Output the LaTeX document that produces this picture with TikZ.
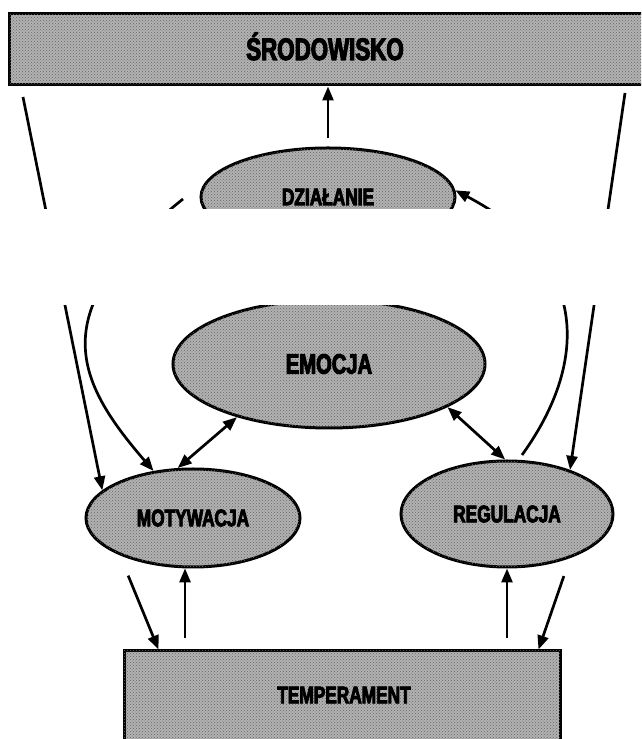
\documentclass[tikz,border=0pt]{standalone}
\usepackage{fontspec}
\newfontfamily\lbl{Liberation Sans}[FakeStretch=0.72,BoldFeatures={FakeBold=3.5}]
\usetikzlibrary{arrows.meta,shapes.geometric,patterns}

\begin{document}
\begin{tikzpicture}[x=1pt,y=1pt,
  shade/.style={fill=black!30, postaction={pattern=crosshatch dots, pattern color=black!60}},
  box/.style={draw, line width=3pt, shade, rectangle, inner sep=0pt},
  oval/.style={draw, line width=3pt, shade, ellipse, inner sep=0pt,
    font=\lbl\bfseries\fontsize{24}{26}\selectfont},
  txt/.style={inner sep=0pt, font=\lbl\bfseries\fontsize{24}{26}\selectfont},
  arr/.style={line width=2.7pt, -{Triangle[length=14pt,width=11pt]}},
  dbl/.style={line width=2.7pt, {Triangle[length=14pt,width=11pt]}-{Triangle[length=14pt,width=11pt]}},
]
\useasboundingbox (0,0) rectangle (641,739);
\clip (0,0) rectangle (641,739);

% top bar and its label
\node[box, minimum width=660pt, minimum height=71pt] (srod) at (339,689.5) {};
\node[txt, anchor=base, font=\lbl\bfseries\fontsize{31}{33}\selectfont] (srodtxt) at (325,679) {ŚRODOWISKO};

% ellipses
\node[oval, minimum width=254pt, minimum height=98pt] (dzial) at (328,542) {DZIAŁANIE};
\node[oval, minimum width=312pt, minimum height=128pt,
      font=\lbl\bfseries\fontsize{28}{30}\selectfont] (emo) at (329,375) {EMOCJA};
\node[oval, minimum width=214pt, minimum height=98pt] (motyw) at (193,221) {MOTYWACJA};
\node[oval, minimum width=212pt, minimum height=106pt] (reg) at (507,225) {REGULACJA};

% bottom bar and its label
\node[box, minimum width=436pt, minimum height=108pt] (tempe) at (342,34) {};
\node[txt] (tempetxt) at (344,44) {TEMPERAMENT};

% free ends of the connectors
\coordinate (lt) at (23,642);
\coordinate (rt) at (625,646);
\coordinate (lc) at (183,540);
\coordinate (rc) at (522,284);

% connectors
\draw[arr, shorten <=8pt] (dzial.north) -- (dzial.north |- srod.south);
\draw[arr] (lt) -- (motyw.163);
\draw[arr] (rt) -- (reg.35);
\draw[arr] (lc) .. controls (43,428) and (75,359) .. (motyw.130);
\draw[arr] (rc) .. controls (582,367) and (599,473) .. (dzial.3);
\draw[dbl] (emo.210) -- (motyw.107);
\draw[dbl] (emo.340) -- (reg.92);
\draw[arr, shorten <=22pt] (motyw.207) -- ([xshift=36pt]tempe.north west);
\draw[arr, shorten <=11pt] (motyw.261 |- tempe.north) -- (motyw.261);
\draw[arr, shorten <=11pt] (reg.south |- tempe.north) -- (reg.south);
\draw[arr, shorten <=19pt] (reg.325) -- ([xshift=-23pt]tempe.north east);

% blank band across the middle
\fill[white] (-5,434) rectangle (650,530);
\end{tikzpicture}
\end{document}
